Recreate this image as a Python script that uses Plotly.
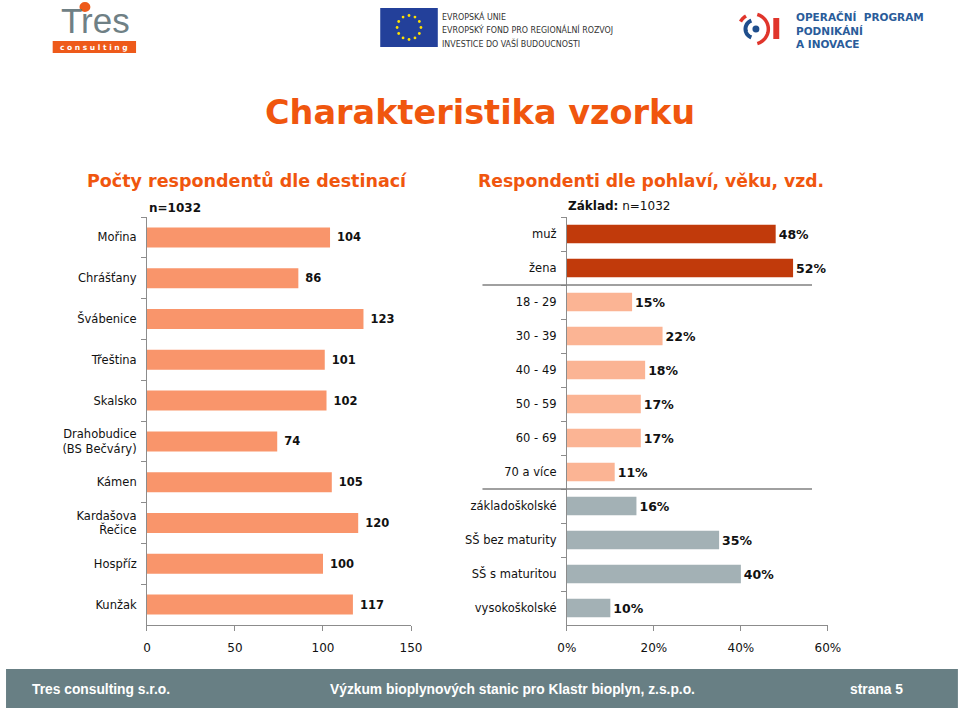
import math
import plotly.graph_objects as go

# ---------------- data ----------------
destinations = ["Mořina", "Chrášťany", "Švábenice", "Třeština", "Skalsko",
                "Drahobudice<br>(BS Bečváry)", "Kámen", "Kardašova<br>Řečice",
                "Hospříz", "Kunžak"]
dest_counts = [104, 86, 123, 101, 102, 74, 105, 120, 100, 117]

gender_labels = ["muž", "žena"]
gender_pct = [48, 52]
age_labels = ["18 - 29", "30 - 39", "40 - 49", "50 - 59", "60 - 69", "70 a více"]
age_pct = [15, 22, 18, 17, 17, 11]
edu_labels = ["základoškolské", "SŠ bez maturity", "SŠ s maturitou", "vysokoškolské"]
edu_pct = [16, 35, 40, 10]

left_ticks = [0, 50, 100, 150]
right_ticks = [0, 20, 40, 60]

# ---------------- helpers ----------------
W, H = 959, 708
X0, WR = 4, 943   # observed horizontal placement of the rendered figure
def px(x):
    return (x - X0) / WR
def py(y):
    return 1 - y / H

LBL = "DejaVu Sans"
ORANGE = "#F0560E"
AXC = "#8C8C8C"

fig = go.Figure()

fig.add_trace(go.Bar(
    y=destinations, x=dest_counts, orientation="h", width=0.49,
    marker=dict(color="#F9956B", line=dict(width=0)),
    text=[f" {v}" for v in dest_counts], textposition="outside", cliponaxis=False,
    textfont=dict(family=LBL, size=11.5, color="#111", weight="bold"),
    xaxis="x", yaxis="y", showlegend=False, hoverinfo="skip"))

right_cats = gender_labels + age_labels + edu_labels
for labels, vals, col in [(gender_labels, gender_pct, "#C13A0B"),
                          (age_labels, age_pct, "#FBB494"),
                          (edu_labels, edu_pct, "#A3B1B5")]:
    fig.add_trace(go.Bar(
        y=labels, x=vals, orientation="h", width=0.55,
        marker=dict(color=col, line=dict(width=0)),
        text=[f"{v}%" for v in vals], textposition="outside", cliponaxis=False,
        textfont=dict(family=LBL, size=12.5, color="#111", weight="bold"),
        xaxis="x2", yaxis="y2", showlegend=False, hoverinfo="skip"))

ydom = [py(625), py(217)]
common_x = dict(showgrid=False, zeroline=False, showline=True, linecolor=AXC,
                linewidth=1, ticks="outside", ticklen=5, tickcolor=AXC,
                tickfont=dict(family=LBL, size=12, color="#111"), ticklabelstandoff=7)
common_y = dict(type="category", showgrid=False, zeroline=False, showline=True,
                linecolor=AXC, linewidth=1, ticks="outside", ticklen=5,
                tickcolor=AXC, tickson="boundaries",
                tickfont=dict(family=LBL, size=11.5, color="#111"),
                ticklabelstandoff=7)

fig.update_layout(
    width=W, height=H, margin=dict(l=0, r=0, t=0, b=0),
    paper_bgcolor="white", plot_bgcolor="rgba(0,0,0,0)",
    xaxis=dict(domain=[px(142), px(408)], range=[0, 150], tickvals=left_ticks,
               anchor="y", **common_x),
    yaxis=dict(domain=ydom, categoryorder="array", categoryarray=destinations,
               range=[len(destinations) - 0.5, -0.5], anchor="x", **common_y),
    xaxis2=dict(domain=[px(565), px(828)], range=[0, 60], tickvals=right_ticks,
                ticktext=[f"{v}%" for v in right_ticks], anchor="y2", **common_x),
    yaxis2=dict(domain=ydom, categoryorder="array", categoryarray=right_cats,
                range=[len(right_cats) - 0.5, -0.5], anchor="x2", **common_y),
)

shapes = []
annots = []

# group separators in right chart
for b in [len(gender_labels) - 0.5, len(gender_labels) + len(age_labels) - 0.5]:
    shapes.append(dict(type="line", xref="paper", yref="y2", x0=px(480), x1=px(812),
                       y0=b, y1=b, line=dict(color="#808080", width=1.5)))

# titles
annots.append(dict(text="<b>Charakteristika vzorku</b>", x=px(478), y=py(113),
                   xanchor="center", font=dict(family=LBL, size=33.5, color=ORANGE)))
annots.append(dict(text="<b>Počty respondentů dle destinací</b>", x=px(243), y=py(180),
                   xanchor="center", font=dict(family=LBL, size=17.5, color=ORANGE)))
annots.append(dict(text="<b>Respondenti dle pohlaví, věku, vzd.</b>", x=px(473), y=py(181),
                   xanchor="left", font=dict(family=LBL, size=17.2, color=ORANGE)))
annots.append(dict(text="<b>n=1032</b>", x=px(142), y=py(208), xanchor="left",
                   font=dict(family=LBL, size=12, color="#111")))
annots.append(dict(text="<b>Základ:</b> n=1032", x=px(564), y=py(206), xanchor="left",
                   font=dict(family=LBL, size=12, color="#111")))

# footer
shapes.append(dict(type="rect", xref="paper", yref="paper", x0=px(0), x1=px(959),
                   y0=0, y1=py(669), fillcolor="#687F84", line=dict(width=0), layer="below"))
FOOT = dict(family="Liberation Sans", size=13.8, color="white")
annots.append(dict(text="<b>Tres consulting s.r.o.</b>", x=px(24), y=py(689), xanchor="left", font=FOOT))
annots.append(dict(text="<b>Výzkum bioplynových stanic pro Klastr bioplyn, z.s.p.o.</b>",
                   x=px(324), y=py(689), xanchor="left", font=FOOT))
annots.append(dict(text="<b>strana 5</b>", x=px(906), y=py(689), xanchor="right", font=FOOT))

# ---- Tres logo ----
shapes.append(dict(type="circle", xref="paper", yref="paper",
                   x0=px(74), x1=px(85), y0=py(12), y1=py(2),
                   fillcolor="#EE5A1A", line=dict(width=0)))
annots.append(dict(text="Tres", x=px(90), y=py(42.5), xanchor="center", yanchor="bottom",
                   font=dict(family="Liberation Sans", size=35, color="#6F8085")))
shapes.append(dict(type="rect", xref="paper", yref="paper",
                   x0=px(47), x1=px(131), y0=py(53), y1=py(41),
                   fillcolor="#EE5A1A", line=dict(width=0)))
annots.append(dict(text="<b>c o n s u l t i n g</b>", x=px(89), y=py(47.5), xanchor="center",
                   font=dict(family="DejaVu Sans", size=7.5, color="white")))

# ---- EU flag ----
shapes.append(dict(type="rect", xref="paper", yref="paper",
                   x0=px(377), x1=px(435), y0=py(47), y1=py(8),
                   fillcolor="#23409A", line=dict(width=0)))
cx, cy, r = 406, 27.5, 12
for k in range(12):
    a = 2 * math.pi * k / 12
    sx, sy = cx + r * math.cos(a), cy + r * math.sin(a)
    shapes.append(dict(type="circle", xref="paper", yref="paper",
                       x0=px(sx - 1.4), x1=px(sx + 1.4), y0=py(sy + 1.4), y1=py(sy - 1.4),
                       fillcolor="#FFE000", line=dict(width=0)))
EUF = dict(family="Liberation Sans Narrow, DejaVu Sans Condensed, Liberation Sans", size=8.8, color="#333")
for t, yy in [("EVROPSKÁ UNIE", 16), ("EVROPSKÝ FOND PRO REGIONÁLNÍ ROZVOJ", 29),
              ("INVESTICE DO VAŠÍ BUDOUCNOSTI", 43)]:
    annots.append(dict(text=t, x=px(437), y=py(yy), xanchor="left", font=EUF))

# ---- OPPI logo ----
def arc(cx, cy, r, a0, a1, n=30):
    pts = []
    for i in range(n + 1):
        a = math.radians(a0 + (a1 - a0) * i / n)
        pts.append((px(cx + r * math.cos(a)), py(cy - r * math.sin(a))))
    return "M " + " L ".join(f"{x:.5f},{y:.5f}" for x, y in pts)

shapes.append(dict(type="path", xref="paper", yref="paper", path=arc(754, 29, 9, 110, 250),
                   line=dict(color="#1F4E8C", width=4)))
shapes.append(dict(type="circle", xref="paper", yref="paper",
                   x0=px(752), x1=px(759), y0=py(32.5), y1=py(25.5),
                   fillcolor="#1F4E8C", line=dict(width=0)))
shapes.append(dict(type="path", xref="paper", yref="paper", path=arc(753, 29, 15, -75, 75),
                   line=dict(color="#E0352B", width=3.5)))
shapes.append(dict(type="path", xref="paper", yref="paper", path=arc(753, 29, 15, 120, 150),
                   line=dict(color="#E0352B", width=3.5)))
shapes.append(dict(type="rect", xref="paper", yref="paper",
                   x0=px(773), x1=px(779), y0=py(39), y1=py(18),
                   fillcolor="#E0352B", line=dict(width=0)))
annots.append(dict(text="<b>OPERAČNÍ  PROGRAM</b><br><b>PODNIKÁNÍ</b><br><b>A INOVACE</b>",
                   x=px(794), y=py(30), xanchor="left", align="left",
                   font=dict(family="DejaVu Sans", size=10.5, color="#2A5C9A")))

for a in annots:
    a.setdefault("xref", "paper")
    a.setdefault("yref", "paper")
    a.setdefault("showarrow", False)
    a.setdefault("yanchor", "middle")
fig.update_layout(shapes=shapes, annotations=annots)

fig.write_html("out.html")
